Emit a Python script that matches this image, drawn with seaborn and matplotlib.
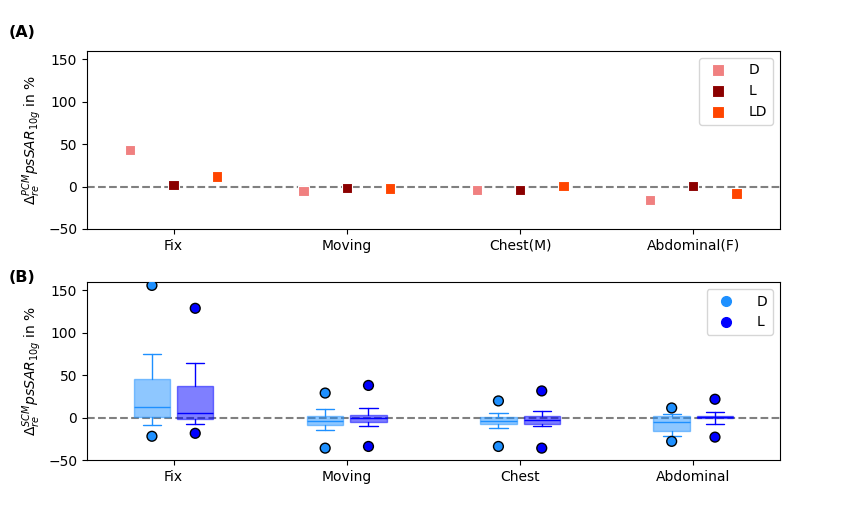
import matplotlib
matplotlib.use("Agg")
import matplotlib.pyplot as plt
from matplotlib.lines import Line2D
import numpy as np
import pandas as pd
import seaborn as sns

# panel A: PCM relative deviation (one value per group)
pcm_positions = ["Fix", "Moving", "Chest(M)", "Abdominal(F)"]
pcm_D = [43, -5, -4.3, -16]
pcm_L = [1.6, -2, -4.3, 0.8]
pcm_LD = [12, -2.3, 0.8, -8]

# panel B: SCM relative deviation, box statistics per group
scm_positions = ["Fix", "Moving", "Chest", "Abdominal"]
# D
scm_D_q1 = [0.5, -9, -8, -15.4]
scm_D_med = [12.6, -4.3, -3.5, -5.5]
scm_D_q3 = [45.7, 2, 1, 2]
scm_D_whislo = [-9, -15, -12.6, -21.6]
scm_D_whishi = [74.8, 10, 5, 4.3]
scm_D_min = [-22, -36, -34, -28]
scm_D_max = [156, 29, 19.7, 11.4]
# L
scm_L_q1 = [-2, -5.5, -7, -1]
scm_L_med = [5, -1, -2.8, 0.8]
scm_L_q3 = [37, 3, 2.4, 2]
scm_L_whislo = [-8, -10, -10, -8]
scm_L_whishi = [64, 11.5, 7.5, 6.3]
scm_L_min = [-18.5, -34, -36, -23]
scm_L_max = [129, 38, 31.5, 21.7]

pcm_colors = {"D": "lightcoral", "L": "darkred", "LD": "orangered"}
scm_colors = {"D": "dodgerblue", "L": "blue"}

sns.set_style("ticks", rc={"axes.edgecolor": "black", "text.color": "black",
                           "axes.labelcolor": "black", "xtick.color": "black",
                           "ytick.color": "black"})
plt.rcParams["font.family"] = ["DejaVu Sans"]

fig = plt.figure(figsize=(8.67, 5.11), dpi=100)
ax1 = fig.add_axes([0.1003, 0.5519, 0.7993, 0.3483])
ax2 = fig.add_axes([0.1003, 0.0998, 0.7993, 0.3483])

# ---- panel A ----
pcm_df = pd.DataFrame({
    "pos": np.tile(np.arange(len(pcm_positions)), 3)
    + np.repeat([-0.25, 0.0, 0.25], len(pcm_positions)),
    "value": pcm_D + pcm_L + pcm_LD,
    "group": np.repeat(["D", "L", "LD"], len(pcm_positions)),
})
sns.scatterplot(data=pcm_df, x="pos", y="value", hue="group", palette=pcm_colors,
                marker="s", s=55, edgecolor="white", linewidth=0.8, ax=ax1)
ax1.axhline(0, color="gray", linestyle="--", linewidth=1.5, zorder=0)
ax1.set_xticks(range(len(pcm_positions)))
ax1.set_xticklabels(pcm_positions)
ax1.set_xlim(-0.5, 3.5)
ax1.set_ylim(-50, 160)
ax1.set_yticks([-50, 0, 50, 100, 150])
ax1.set_xlabel("")
ax1.set_ylabel(r"$\Delta_{re}^{PCM} psSAR_{10g}$ in %")
ax1.legend(loc="upper right", handletextpad=1.2, labelspacing=0.5, markerscale=1.2)

# ---- panel B ----
def make_stats(q1, med, q3, lo, hi):
    return [dict(q1=a, med=b, q3=c, whislo=d, whishi=e, fliers=[])
            for a, b, c, d, e in zip(q1, med, q3, lo, hi)]

xs = np.arange(len(scm_positions))
for name, off, stats in [
    ("D", -0.125, make_stats(scm_D_q1, scm_D_med, scm_D_q3, scm_D_whislo, scm_D_whishi)),
    ("L", 0.125, make_stats(scm_L_q1, scm_L_med, scm_L_q3, scm_L_whislo, scm_L_whishi)),
]:
    c = scm_colors[name]
    ax2.bxp(stats, positions=xs + off, widths=0.21, patch_artist=True,
            showfliers=False, manage_ticks=False,
            boxprops=dict(facecolor=c, edgecolor=c, alpha=0.5),
            medianprops=dict(color=c, linewidth=1),
            whiskerprops=dict(color=c, linewidth=1),
            capprops=dict(color=c, linewidth=1))

ext_df = pd.DataFrame({
    "pos": np.concatenate([xs - 0.125, xs - 0.125, xs + 0.125, xs + 0.125]),
    "value": scm_D_min + scm_D_max + scm_L_min + scm_L_max,
    "group": ["D"] * 8 + ["L"] * 8,
})
sns.scatterplot(data=ext_df, x="pos", y="value", hue="group", palette=scm_colors,
                s=50, edgecolor="black", linewidth=1, legend=False, ax=ax2, zorder=5)
ax2.axhline(0, color="gray", linestyle="--", linewidth=1.5, zorder=0)
ax2.set_xticks(xs)
ax2.set_xticklabels(scm_positions)
ax2.set_xlim(-0.5, 3.5)
ax2.set_ylim(-50, 160)
ax2.set_yticks([-50, 0, 50, 100, 150])
ax2.set_xlabel("")
ax2.set_ylabel(r"$\Delta_{re}^{SCM} psSAR_{10g}$ in %")
handles = [Line2D([], [], marker="o", linestyle="", color=scm_colors[k],
                  markersize=7) for k in scm_colors]
ax2.legend(handles, list(scm_colors), loc="upper right", handletextpad=1.2)

fig.text(0.01, 0.928, "(A)", fontsize=11.5, fontweight="bold")
fig.text(0.01, 0.448, "(B)", fontsize=11.5, fontweight="bold")

fig.savefig("out.png", dpi=100)
